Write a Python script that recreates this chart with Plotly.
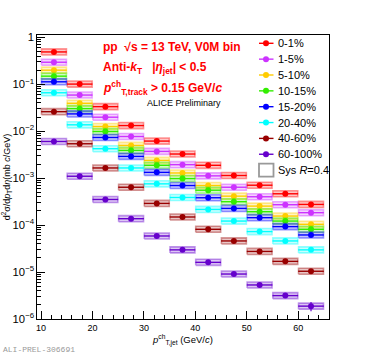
import plotly.graph_objects as go

# ---------------- data ----------------
pt_centers = [12.5, 17.5, 22.5, 27.5, 32.5, 37.5, 42.5, 47.5, 52.5, 57.5, 62.5]
bin_half_width = 2.5

labels = ["0-1%", "1-5%", "5-10%", "10-15%", "15-20%", "20-40%", "40-60%", "60-100%"]
colors = ["#ff0000", "#cc33ff", "#ffcc00", "#33ee00", "#0000ff", "#00ffff", "#990000", "#6600cc"]
box_rgb = [(255, 0, 0), (204, 51, 255), (255, 204, 0), (51, 238, 0),
           (0, 0, 255), (0, 255, 255), (153, 0, 0), (102, 0, 204)]

v_0_1 = [0.489, 0.101, 0.0334, 0.0132, 6.17e-3, 3.27e-3, 1.88e-3, 1.14e-3, 7.08e-4, 4.65e-4, 2.76e-4]
v_1_5 = [0.295, 0.059, 0.0199, 7.72e-3, 3.72e-3, 1.94e-3, 1.12e-3, 6.41e-4, 4.02e-4, 2.72e-4, 1.84e-4]
v_5_10 = [0.200, 0.0394, 0.0126, 4.98e-3, 2.39e-3, 1.29e-3, 6.97e-4, 4.14e-4, 2.54e-4, 1.56e-4, 1.04e-4]
v_10_15 = [0.149, 0.0303, 9.86e-3, 3.90e-3, 1.88e-3, 9.8e-4, 5.54e-4, 3.15e-4, 1.93e-4, 1.22e-4, 8.15e-5]
v_15_20 = [0.113, 0.0234, 7.36e-3, 2.91e-3, 1.33e-3, 6.97e-4, 3.83e-4, 2.27e-4, 1.44e-4, 9.29e-5, 6.17e-5]
v_20_40 = [0.066, 0.0137, 4.24e-3, 1.65e-3, 7.57e-4, 3.88e-4, 2.16e-4, 1.22e-4, 7.28e-5, 4.60e-5, 2.97e-5]
v_40_60 = [0.0261, 5.41e-3, 1.65e-3, 6.41e-4, 2.90e-4, 1.49e-4, 8.15e-5, 4.60e-5, 2.75e-5, 1.69e-5, 1.04e-5]
v_60_100 = [6.05e-3, 1.10e-3, 3.52e-4, 1.37e-4, 5.87e-5, 2.97e-5, 1.61e-5, 9.08e-6, 5.31e-6, 3.15e-6, 1.88e-6]
series_values = [v_0_1, v_1_5, v_5_10, v_10_15, v_15_20, v_20_40, v_40_60, v_60_100]

# statistical (vertical) errors, visible only at the last bin of 60-100%
stat_60_100 = [0, 0, 0, 0, 0, 0, 0, 0, 0, 0, 4.2e-7]
sys_rel = 0.16
sys_label = "Sys <i>R</i>=0.4"

W, H = 366, 355
ML, MR, MT, MB = 37, 37, 35, 36
PW, PH = W - ML - MR, H - MT - MB


def px(xpix):
    return (xpix - ML) / PW


def py(ypix):
    return (H - MB - ypix) / PH


fig = go.Figure()

for i, (vals, col, rgb, lab) in enumerate(zip(series_values, colors, box_rgb, labels)):
    xs, ys = [], []
    for xc, v in zip(pt_centers, vals):
        x0, x1 = xc - bin_half_width * 0.97, xc + bin_half_width * 0.97
        lo, hi = v / (1 + sys_rel), v * (1 + sys_rel)
        xs += [x0, x1, x1, x0, x0, None]
        ys += [lo, lo, hi, hi, lo, None]
    fig.add_trace(go.Scatter(
        x=xs, y=ys, mode="lines", fill="toself",
        fillcolor="rgba(%d,%d,%d,0.22)" % rgb,
        line=dict(color="rgba(%d,%d,%d,0.4)" % rgb, width=1.6),
        showlegend=False, hoverinfo="skip"))
    ey = stat_60_100 if lab == "60-100%" else [0] * len(vals)
    fig.add_trace(go.Scatter(
        x=pt_centers, y=vals, mode="markers", name=lab,
        marker=dict(color=col, size=6, symbol="circle"),
        error_x=dict(type="constant", value=bin_half_width, color=col, thickness=1.4, width=0),
        error_y=dict(type="data", array=ey, color=col, thickness=1.2, width=0),
        showlegend=False))

font_family = "Liberation Sans, Arial, sans-serif"

fig.update_layout(
    width=W, height=H,
    margin=dict(l=ML, r=MR, t=MT, b=MB, autoexpand=False),
    paper_bgcolor="white", plot_bgcolor="white",
    font=dict(family=font_family, size=9, color="black"),
    showlegend=False,
    xaxis=dict(range=[9.2, 66], showgrid=False, zeroline=False, automargin=False,
               showline=True, linecolor="black", linewidth=1.2, mirror=True,
               ticks="inside", ticklen=8, tickwidth=1, tickcolor="black",
               dtick=10, tick0=0,
               minor=dict(ticks="inside", ticklen=4, dtick=2, tickcolor="black"),
               tickfont=dict(size=9),
               title=dict(text="<i>p</i><sup>ch</sup><sub>T,jet</sub> (GeV/<i>c</i>)",
                          font=dict(size=9.5), standoff=0)),
    yaxis=dict(type="log", range=[-6, 0.05], showgrid=False, zeroline=False, automargin=False,
               showline=True, linecolor="black", linewidth=1.2, mirror=True,
               ticks="inside", ticklen=8, tickwidth=1, tickcolor="black",
               dtick=1, exponentformat="power",
               minor=dict(ticks="inside", ticklen=4, dtick="D1", tickcolor="black"),
               tickfont=dict(size=9),
               title=dict(text="d<sup>2</sup>σ/d<i>p</i><sub>T</sub>d<i>η</i>(mb <i>c</i>/GeV)",
                          font=dict(size=9), standoff=0)),
)

# ---- legend drawn in paper coordinates ----
leg_y0, leg_dy = 43.3, 15.85
sym_x0, sym_x1, sym_xc, txt_x = 259, 273.5, 266, 276
for i, (col, lab) in enumerate(zip(colors, labels)):
    yy = leg_y0 + leg_dy * i
    fig.add_shape(type="line", xref="paper", yref="paper",
                  x0=px(sym_x0), x1=px(sym_x1), y0=py(yy), y1=py(yy),
                  line=dict(color=col, width=1.4))
    fig.add_shape(type="circle", xref="paper", yref="paper",
                  x0=px(sym_xc - 3), x1=px(sym_xc + 3), y0=py(yy - 3), y1=py(yy + 3),
                  fillcolor=col, line=dict(color=col, width=0))
    fig.add_annotation(text=lab, xref="paper", yref="paper", x=px(txt_x), y=py(yy),
                       xanchor="left", yanchor="middle", showarrow=False,
                       font=dict(family=font_family, size=11, color="black"))
yy = leg_y0 + leg_dy * len(labels)
fig.add_shape(type="rect", xref="paper", yref="paper",
              x0=px(sym_x0), x1=px(sym_x1), y0=py(yy - 6.5), y1=py(yy + 6.5),
              fillcolor="white", line=dict(color="#999999", width=1.8))
fig.add_annotation(text=sys_label, xref="paper", yref="paper", x=px(txt_x), y=py(yy),
                   xanchor="left", yanchor="middle", showarrow=False,
                   font=dict(family=font_family, size=11, color="black"))

red_font = dict(family=font_family, size=12, color="#ff0000")
ann = [
    dict(text="<b>pp  √s = 13 TeV, V0M bin</b>", x=px(101), y=py(47)),
    dict(text="<b>Anti-<i>k</i><sub>T</sub>   |<i>η</i><sub>jet</sub>| < 0.5</b>", x=px(101), y=py(68)),
    dict(text="<b><i>p</i><sup>ch</sup><sub>T,track</sub> > 0.15 GeV/<i>c</i></b>", x=px(101), y=py(88)),
]
for a in ann:
    fig.add_annotation(xref="paper", yref="paper", xanchor="left", yanchor="middle",
                       showarrow=False, font=red_font, **a)
fig.add_annotation(text="ALICE Preliminary", xref="paper", yref="paper",
                   x=px(145), y=py(103), xanchor="left", yanchor="middle", showarrow=False,
                   font=dict(family=font_family, size=9, color="black"))
fig.add_annotation(text="ALI-PREL-306691", xref="paper", yref="paper",
                   x=px(1), y=py(349), xanchor="left", yanchor="middle", showarrow=False,
                   font=dict(family="Liberation Mono, DejaVu Sans Mono, monospace", size=8, color="#999999"))

fig.write_html("out.html", config={"displayModeBar": False},
               post_script="document.body.style.margin='0';document.body.style.overflow='hidden';")
